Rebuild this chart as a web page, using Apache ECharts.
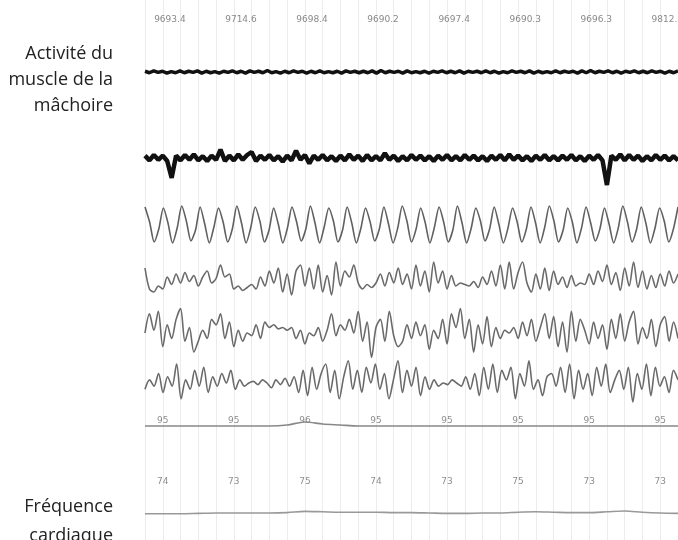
<!DOCTYPE html>
<html><head><meta charset="utf-8">
<script src="https://cdn.jsdelivr.net/npm/echarts@6/dist/echarts.min.js"></script>
<style>html,body{margin:0;padding:0;background:#fff}#c{width:678px;height:540px}</style>
</head><body><div id="c"></div>
<script>
const epochSeconds = 30;
const timeLabels = ['9693.4','9714.6','9698.4','9690.2','9697.4','9690.3','9696.3','9812.5'];
const timeLabelTimes = [1.4, 5.4, 9.4, 13.4, 17.4, 21.4, 25.4, 29.4];
const spo2Labels = ['95','95','96','95','95','95','95','95'];
const hrLabels = ['74','73','75','74','73','75','73','73'];
const valueLabelTimes = [1, 5, 9, 13, 17, 21, 25, 29];

const emgChin1 = [2,-2,3,-1,2,-3,1,-2,3,-2,2,-1,3,-3,2,-2,1,-3,2,-1,3,-2,2,-3,3,-1,2,-2,4,-2,1,-3,2,-2,3,-1,2,-3,2,-2,3,-2,1,-2,2,-3,3,-1,2,-2,2,-2,3,-3,4,-2,2,-1,2,-3,3,-2,1,-2,2,-3,2,-1,3,-2,2,-2,3,-3,2,-1,2,-2,3,-2,2,-3,1,-2,3,-1,2,-2,3,-3,2,-2,1,-2,3,-2,2,-1,2,-3,3,-2,4,-2,2,-1,3,-2,2,-3,2,-1,3,-2,2,-2,3,-1,2,-3,2,-2,3];
const emgChin2 = [4,-4,5,-3,4,-5,-33,4,-4,5,-3,6,-4,3,-5,4,-3,14,-5,4,-4,6,-3,5,10,-5,4,-3,5,-4,3,-6,4,-4,12,-3,5,-9,4,-3,5,-4,3,-5,4,-4,6,-3,4,-5,5,-4,3,-4,8,-3,4,-5,3,-4,5,-3,4,-4,3,-5,4,-3,5,-4,3,-4,5,-3,4,-4,3,-5,4,-3,5,-4,6,-3,4,-4,3,-5,4,-3,5,-4,3,-4,4,-3,5,-4,3,-5,4,-3,5,-4,-45,4,-3,6,-4,5,-3,4,-5,3,-4,5,-3,4,-4,3,-4];
const respiration = [18,3,-17,-4,17,2,-18,-3,19,4,-16,-5,18,1,-18,-2,17,3,-17,-4,19,2,-18,-3,18,4,-17,-5,17,1,-18,-3,18,3,-16,-4,19,2,-18,-2,17,4,-17,-5,18,2,-18,-3,17,3,-16,-4,18,1,-18,-3,19,4,-17,-4,17,2,-18,-2,18,3,-17,-5,19,2,-18,-3,17,4,-16,-4,18,1,-18,-3,17,3,-17,-4,18,2,-18,-2,19,4,-17,-5,17,3,-18,-3,18,2,-16,-4,17,1,-18,-3,19,3,-17,-4,18,2,-18,-3,17,4,-17,-4,18];
const eeg1 = [8,-6,-8,-4,-6,2,-3,4,-2,5,-1,3,-4,2,6,-2,1,10,2,4,-6,-4,-7,-5,-3,-6,2,-4,6,-2,8,-8,4,-10,6,10,-4,8,-6,10,-8,3,-10,12,-4,6,2,10,-2,-6,-3,-5,-2,4,-4,5,-2,8,-3,4,-6,10,-4,6,-8,12,-2,6,-6,3,-4,-2,-3,-4,-1,-5,2,-3,6,-4,10,-6,12,-6,5,12,-2,-8,4,-6,8,-7,6,-3,2,-5,3,-4,-2,-3,4,-3,6,-1,10,-3,5,-7,8,-4,12,-5,6,-6,3,-5,4,-4,6,-2,4];
const eeg2 = [0,14,2,16,-10,6,-4,10,18,-6,4,-14,-6,2,-4,10,6,14,-4,8,-10,2,-6,0,-2,6,-4,8,4,6,3,4,2,4,-4,2,-8,0,-2,4,-6,2,14,-2,6,2,10,0,16,-6,8,-18,4,10,-6,16,-2,-10,-6,6,-4,8,-2,6,-12,2,-4,10,-8,14,4,18,-4,10,-14,6,-8,12,-10,4,-4,2,0,4,-4,8,-2,10,-6,4,14,-4,12,-10,8,-14,16,-6,10,2,-8,8,-4,6,-12,10,-4,14,-6,8,16,-8,4,-4,10,-10,6,12,-6,8,-4];
const eeg3 = [-4,2,-2,6,-6,4,-2,12,-10,2,-4,8,-2,10,-6,4,-2,6,0,8,-4,2,-2,0,1,-1,2,0,-3,2,-1,3,-2,4,-6,8,-8,10,-4,6,12,-6,8,-10,4,14,-4,8,-6,10,0,12,-4,6,-10,2,14,-6,8,-2,10,-8,4,-4,2,-2,0,-1,2,0,-2,4,-4,6,-8,10,-4,12,-6,8,2,10,-10,6,-2,14,-4,2,-8,4,6,-2,10,-6,12,-10,8,-4,6,-8,10,-2,12,-6,2,8,-4,10,-12,6,-4,12,-8,10,-2,4,-6,8,2];
const spo2 = [95,95,95,95,95,95,95,95,95.1,95.4,95.2,95.1,95,95,95,95,95,95,95,95,95,95,95,95,95,95,95,95,95,95,95];
const heartRate = [73.8,73.8,73.8,73.9,74.0,74.0,74.0,74.0,74.1,74.4,74.3,74.2,74.2,74.2,74.1,74.1,74.0,73.9,73.9,74.0,74.0,74.2,74.3,74.2,74.1,74.1,74.3,74.5,74.2,74.0,73.9];

function toXY(arr){ return arr.map((v,i)=>[i*epochSeconds/(arr.length-1), v]); }
function labelData(times, texts){ return times.map((t,i)=>({value:[t,0], name:texts[i]})); }

// grid layout: [top, height, ymin, ymax]
const layout = [
  [0, 540, 0, 1],      // 0 background grid
  [12, 16, -1, 1],     // 1 time labels
  [57, 30, -40, 40],   // 2 emg1
  [128, 60, -50, 50],  // 3 emg2
  [195, 60, -30, 30],  // 4 resp
  [250, 60, -20, 20],  // 5 eeg1
  [303, 60, -22, 22],  // 6 eeg2
  [353, 60, -19, 19],  // 7 eeg3
  [414, 14, -1, 1],    // 8 spo2 labels
  [416, 20, 94, 96],   // 9 spo2
  [475, 14, -1, 1],    // 10 hr labels
  [489, 40, 70, 80]    // 11 hr
];
const grids = layout.map(l=>({left:145, right:0, top:l[0], height:l[1]}));
const xAxes = layout.map((l,i)=>({gridIndex:i, type:'value', min:0, max:epochSeconds, show: i===0,
  axisLine:{show:false}, axisTick:{show:false}, axisLabel:{show:false},
  splitLine:{show:i===0, lineStyle:{color:'#ececec', width:1}}, interval:1}));
const yAxes = layout.map((l,i)=>({gridIndex:i, type:'value', min:l[2], max:l[3], show:false}));

function trace(idx, data, color, width, smooth){
  return {type:'line', xAxisIndex:idx, yAxisIndex:idx, data:toXY(data), showSymbol:false,
    smooth:smooth, lineStyle:{color:color, width:width}, silent:true, animation:false};
}
function labels(idx, times, texts, color){
  return {type:'scatter', xAxisIndex:idx, yAxisIndex:idx, data:labelData(times,texts), symbolSize:1,
    itemStyle:{color:'rgba(0,0,0,0)'}, silent:true, animation:false,
    label:{show:true, position:'inside', formatter:'{b}', color:color, fontSize:9, fontFamily:'DejaVu Sans'}};
}

const chart = echarts.init(document.getElementById('c'), null, {renderer:'canvas'});
chart.setOption({
  backgroundColor:'#ffffff',
  animation:false,
  grid:grids, xAxis:xAxes, yAxis:yAxes,
  series:[
    labels(1, timeLabelTimes, timeLabels, '#6a6a6a'),
    trace(2, emgChin1, '#111111', 3.5, false),
    trace(3, emgChin2, '#111111', 4.5, false),
    trace(4, respiration, '#606060', 1.6, 0.25),
    trace(5, eeg1, '#6a6a6a', 1.6, 0.3),
    trace(6, eeg2, '#6a6a6a', 1.6, 0.3),
    trace(7, eeg3, '#6a6a6a', 1.6, 0.3),
    labels(8, valueLabelTimes, spo2Labels, '#707070'),
    trace(9, spo2, '#888888', 1.6, 0.3),
    labels(10, valueLabelTimes, hrLabels, '#707070'),
    trace(11, heartRate, '#999999', 1.6, 0.3)
  ],
  graphic:[
    {type:'text', x:113, y:41, style:{text:'Activité du\nmuscle de la\nmâchoire', align:'right', textAlign:'right',
      font:'18px "Open Sans"', lineHeight:26, fill:'#222'}},
    {type:'text', x:113, y:492, style:{text:'Fréquence\ncardiaque', align:'right', textAlign:'right',
      font:'18px "Open Sans"', lineHeight:29, fill:'#222'}}
  ]
});
</script></body></html>
